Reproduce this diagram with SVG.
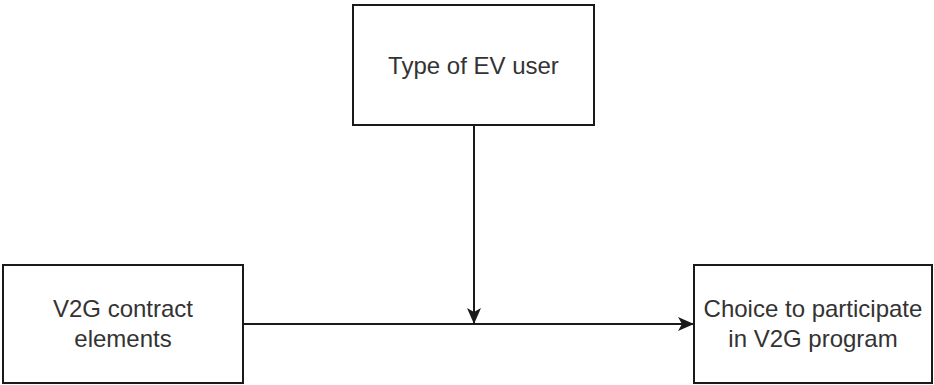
<svg xmlns="http://www.w3.org/2000/svg" width="934" height="385" viewBox="0 0 934 385">
<defs>
<style>
.box{fill:#fff;stroke:#1a1a1a;stroke-width:2}
.lbl{font-family:"Liberation Sans",Arial,sans-serif;font-size:24px;fill:#333;text-anchor:middle}
.edge{stroke:#1a1a1a;stroke-width:2;fill:none}
</style>
<marker id="arr" viewBox="0 0 16 14" refX="15" refY="7" markerWidth="16" markerHeight="14" markerUnits="userSpaceOnUse" orient="auto">
<path d="M0,0 L16,7 L0,14 L4,7 Z" fill="#1a1a1a"/>
</marker>
</defs>
<rect width="934" height="385" fill="#fff"/>
<g id="connectors">
<line class="edge" x1="243" y1="324" x2="693" y2="324" marker-end="url(#arr)"/>
<line class="edge" x1="474" y1="125" x2="474" y2="323" marker-end="url(#arr)"/>
</g>
<g id="type-ev-user">
<rect class="box" x="353" y="5" width="241" height="120"/>
<text class="lbl" x="473.5" y="74">Type of EV user</text>
</g>
<g id="v2g-contract">
<rect class="box" x="3" y="265" width="240" height="118"/>
<text class="lbl" x="123" y="317">V2G contract</text>
<text class="lbl" x="123" y="347">elements</text>
</g>
<g id="choice">
<rect class="box" x="694" y="265" width="238" height="118"/>
<text class="lbl" x="813" y="317">Choice to participate</text>
<text class="lbl" x="813" y="347">in V2G program</text>
</g>
</svg>
